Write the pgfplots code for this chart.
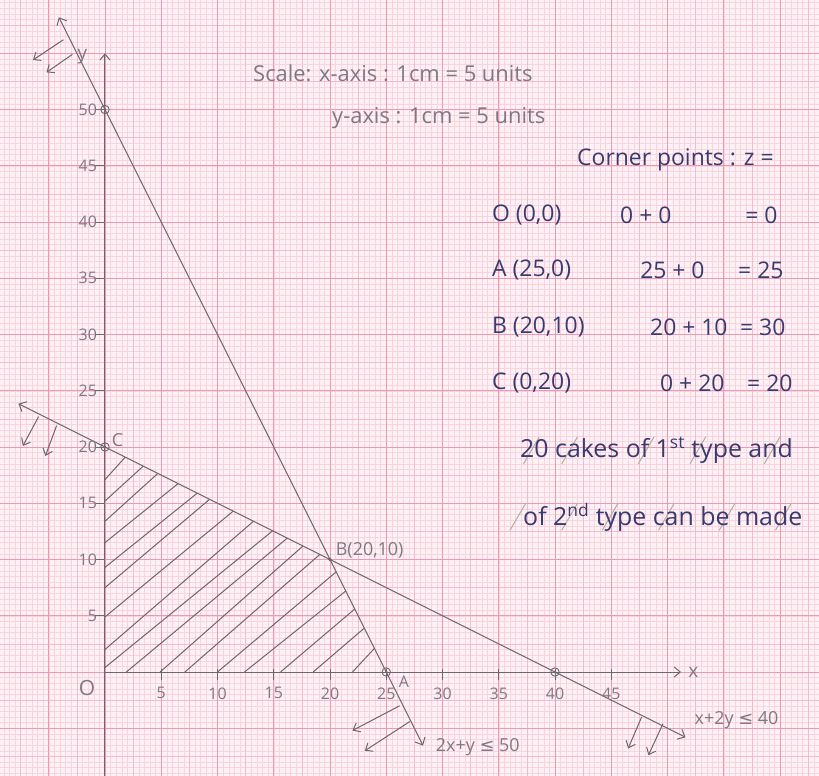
\documentclass[border=0pt]{standalone}
\usepackage{fontspec}
\setmainfont{Open Sans}
\newfontfamily\symfont{DejaVu Sans}
\usepackage{pgfplots}
\pgfplotsset{compat=1.18}
\usetikzlibrary{arrows.meta}

\definecolor{paper}{RGB}{253,241,245}
\definecolor{gridminor}{RGB}{248,212,222}
\definecolor{gridmid}{RGB}{243,188,205}
\definecolor{gridmajor}{RGB}{236,154,178}
\definecolor{pencil}{RGB}{108,102,112}
\definecolor{penciltext}{RGB}{128,120,132}
\definecolor{ink}{RGB}{58,58,112}
\definecolor{hilite}{RGB}{172,176,162}

\tikzset{
  barb/.style={line width=1bp, {Straight Barb[length=6bp,width=11bp]}-{Straight Barb[length=6bp,width=11bp]}},
  tipend/.style={line width=1bp, -{Straight Barb[length=6bp,width=10bp]}},
  ticklab/.style={text=penciltext, font=\fontsize{16}{18}\selectfont, inner sep=0pt},
  pencillab/.style={text=penciltext, font=\fontsize{22}{26}\selectfont, inner sep=0pt, anchor=west},
  inklab/.style={text=ink, font=\fontsize{23}{27}\selectfont, inner sep=0pt, anchor=west},
}

\begin{document}
\begin{tikzpicture}
\useasboundingbox (0,0) rectangle (819bp,776bp);
\fill[paper] (0,0) rectangle (819bp,776bp);
\begin{axis}[
  at={(0,0)}, anchor=south west,
  x=11.25bp, y=11.25bp,
  xmin=-9.333, xmax=63.467, ymin=-9.244, ymax=59.733,
  hide axis,
  clip=true,
]

% graph paper: 1 mm, 5 mm and 1 cm rulings (1 cm = 5 units)
\pgfplotsinvokeforeach{-9,-8.5,...,63.5}{\draw[gridminor, line width=0.45bp] (#1,-9.3) -- (#1,59.8);}
\pgfplotsinvokeforeach{-9,-8.5,...,59.5}{\draw[gridminor, line width=0.45bp] (-9.4,#1) -- (63.5,#1);}
\pgfplotsinvokeforeach{-7.5,-2.5,...,62.5}{\draw[gridmid, line width=0.6bp] (#1,-9.3) -- (#1,59.8);}
\pgfplotsinvokeforeach{-7.5,-2.5,...,57.5}{\draw[gridmid, line width=0.6bp] (-9.4,#1) -- (63.5,#1);}
\pgfplotsinvokeforeach{-5,0,...,60}{\draw[gridmajor, line width=0.9bp] (#1,-9.3) -- (#1,59.8);}
\pgfplotsinvokeforeach{-5,0,...,55}{\draw[gridmajor, line width=0.9bp] (-9.4,#1) -- (63.5,#1);}

% coordinate axes
\addplot[pencil, tipend] coordinates {(0,0) (51.2,0)};
\addplot[pencil, tipend] coordinates {(0,-9.3) (0,55.0)};

% tick marks on both axes
\addplot[pencil, line width=0.9bp, unbounded coords=jump] coordinates {
  (5,-0.7) (5,0.3) (nan,nan) (10,-0.7) (10,0.3) (nan,nan)
  (15,-0.7) (15,0.3) (nan,nan) (20,-0.7) (20,0.3) (nan,nan)
  (25,-0.7) (25,0.3) (nan,nan) (30,-0.7) (30,0.3) (nan,nan)
  (35,-0.7) (35,0.3) (nan,nan) (40,-0.7) (40,0.3) (nan,nan)
  (45,-0.7) (45,0.3)};
\addplot[pencil, line width=0.9bp, unbounded coords=jump] coordinates {
  (-0.9,5) (0,5) (nan,nan) (-0.9,10) (0,10) (nan,nan)
  (-0.9,15) (0,15) (nan,nan) (-0.9,20) (0,20) (nan,nan)
  (-0.9,25) (0,25) (nan,nan) (-0.9,30) (0,30) (nan,nan)
  (-0.9,35) (0,35) (nan,nan) (-0.9,40) (0,40) (nan,nan)
  (-0.9,45) (0,45) (nan,nan) (-0.9,50) (0,50)};

% constraint lines 2x + y = 50 and x + 2y = 40
\addplot[pencil, barb] coordinates {(-4.1,58.2) (28.27,-6.54)};
\addplot[pencil, barb] coordinates {(-7.7,23.85) (51.6,-5.8)};

% arrows showing the side of each half-plane
\addplot[pencil, tipend] coordinates {(-3.7,56.2) (-6.4,54.4)};
\addplot[pencil, tipend] coordinates {(-2.9,54.9) (-5.2,53.3)};
\addplot[pencil, tipend] coordinates {(26.2,-3.0) (22.0,-5.2)};
\addplot[pencil, tipend] coordinates {(27.1,-4.4) (23.1,-7.0)};
\addplot[pencil, tipend] coordinates {(-5.9,22.7) (-7.3,20.1)};
\addplot[pencil, tipend] coordinates {(-4.3,21.9) (-5.3,19.2)};
\addplot[pencil, tipend] coordinates {(47.7,-4.0) (46.5,-6.8)};
\addplot[pencil, tipend] coordinates {(49.6,-4.6) (48.3,-7.4)};

% hatching of the feasible region OABC
\addplot[pencil, line width=1bp, unbounded coords=jump] coordinates {
  (0,17.1) (1.8,19.1) (nan,nan)
  (0,15.2) (3.4,18.3) (nan,nan)
  (0,13.4) (4.7,17.65) (nan,nan)
  (0,11.5) (6.5,16.75) (nan,nan)
  (0,9.3) (8.2,15.9) (nan,nan)
  (0,7.5) (9.3,15.35) (nan,nan)
  (0,4.9) (11.4,14.3) (nan,nan)
  (0,2.0) (13.2,13.4) (nan,nan)
  (0,0.4) (14.9,12.55) (nan,nan)
  (1.9,0) (16.2,11.9) (nan,nan)
  (4.9,0) (17.6,11.2) (nan,nan)
  (7.1,0) (19.1,10.45) (nan,nan)
  (10,0) (20.55,8.9) (nan,nan)
  (12.4,0) (21.4,7.2) (nan,nan)
  (15.6,0) (22.2,5.6) (nan,nan)
  (18.5,0) (23.05,3.9) (nan,nan)
  (22,0) (23.95,2.1)};

% intercepts and corner point B
\addplot[only marks, pencil, mark=o, mark size=4.2bp, mark options={line width=0.9bp}]
  coordinates {(0,50) (0,20) (25,0) (40,0)};
\addplot[only marks, pencil, mark=*, mark size=1.1bp]
  coordinates {(0,50) (0,20) (25,0) (40,0)};
\addplot[only marks, pencil, mark=*, mark size=1.6bp] coordinates {(20,10)};

% tick labels
\pgfplotsinvokeforeach{5,10,...,45}{\node[ticklab] at (#1,-1.9) {#1};}
\pgfplotsinvokeforeach{5,10,...,50}{\node[ticklab, anchor=east] at (-0.7,#1) {#1};}
\node[ticklab, font=\fontsize{21}{24}\selectfont] at (-1.6,-1.4) {O};
\node[ticklab, font=\fontsize{19}{22}\selectfont] at (-2.0,54.7) {y};
\node[ticklab, font=\fontsize{19}{22}\selectfont] at (52.3,0) {x};

% point labels
\node[pencillab, font=\fontsize{18}{22}\selectfont] at (0.6,20.6) {C};
\node[pencillab, font=\fontsize{18}{22}\selectfont] at (20.5,10.8) {B(20,10)};
\node[pencillab, font=\fontsize{16}{20}\selectfont] at (26.1,-0.9) {A};
\node[pencillab, font=\fontsize{18}{22}\selectfont] at (29.4,-6.7) {2x+y {\symfont ≤} 50};
\node[pencillab, font=\fontsize{18}{22}\selectfont] at (52.4,-4.3) {x+2y {\symfont ≤} 40};

% scale note
\node[pencillab] at (13.16,53.24) {Scale: x-axis : 1cm = 5 units};
\node[pencillab] at (20.18,49.24) {y-axis : 1cm = 5 units};

% table of corner points and z = x + y
\node[inklab] at (41.96,45.51) {Corner points : z =};
\node[inklab] at (34.4,40.62) {O (0,0)};
\node[inklab] at (45.78,40.62) {0 + 0};
\node[inklab] at (56.9,40.62) {= 0};
\node[inklab] at (34.4,35.73) {A (25,0)};
\node[inklab] at (47.56,35.73) {25 + 0};
\node[inklab] at (56.27,35.73) {= 25};
\node[inklab] at (34.4,30.67) {B (20,10)};
\node[inklab] at (48.44,30.67) {20 + 10};
\node[inklab] at (56.44,30.67) {= 30};
\node[inklab] at (34.4,25.69) {C (0,20)};
\node[inklab] at (49.33,25.69) {0 + 20};
\node[inklab] at (57.07,25.69) {= 20};

% conclusion, with highlighter strokes
\addplot[hilite, line width=1bp, unbounded coords=jump] coordinates {
  (37.2,18.5) (38.6,20.9) (nan,nan) (40.6,18.5) (42.0,20.9) (nan,nan)
  (47.4,18.5) (48.8,20.9) (nan,nan) (52.0,18.5) (53.4,20.9) (nan,nan)
  (58.6,18.5) (60.0,20.9) (nan,nan)
  (36.0,12.6) (37.4,15.0) (nan,nan) (40.6,12.6) (42.0,15.0) (nan,nan)
  (44.2,12.6) (45.6,15.0) (nan,nan) (49.2,12.6) (50.6,15.0) (nan,nan)
  (54.6,12.6) (56.0,15.0) (nan,nan) (59.6,12.6) (61.0,15.0)};
\node[inklab, font=\fontsize{25}{29}\selectfont] at (36.89,19.73) {20 cakes of 1\textsuperscript{st} type and};
\node[inklab, font=\fontsize{25}{29}\selectfont] at (37.16,13.78) {of 2\textsuperscript{nd} type can be made};
\end{axis}
\end{tikzpicture}
\end{document}
